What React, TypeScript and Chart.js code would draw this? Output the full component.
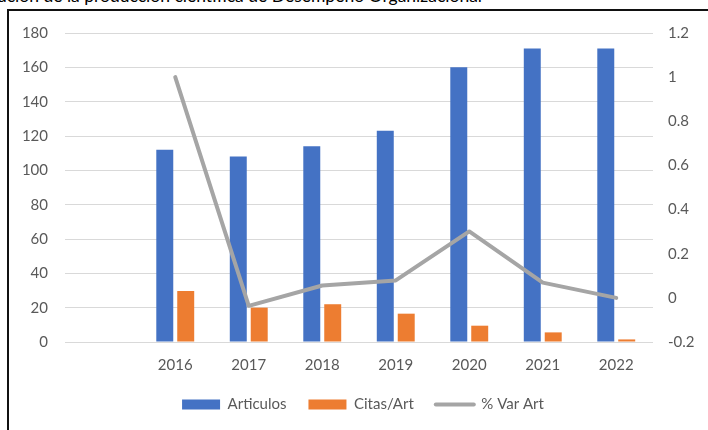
import React, { useEffect, useRef } from "react";
import { Chart, registerables } from "chart.js";

Chart.register(...registerables);

const categories = ["", "2016", "2017", "2018", "2019", "2020", "2021", "2022"];
const articulos = [null, 112, 108, 114, 123, 160, 171, 171];
const citasPorArt = [null, 29.7, 20, 22, 16.5, 9.5, 5.6, 1.5];
const varArt = [null, 1.0, -0.036, 0.056, 0.079, 0.301, 0.069, 0.0];
const leftTicks = [0, 20, 40, 60, 80, 100, 120, 140, 160, 180];
const rightTicks = ["-0.2", "0", "0.2", "0.4", "0.6", "0.8", "1", "1.2"];

const FONT = "Lato";
const TEXT = "#595959";

export default function App() {
  const ref = useRef<HTMLCanvasElement>(null);

  useEffect(() => {
    document.body.style.margin = "0";
    const ctx = ref.current!.getContext("2d")!;
    const chart = new Chart(ctx, {
      type: "bar",
      data: {
        labels: categories,
        datasets: [
          {
            type: "bar",
            label: "Articulos",
            data: articulos as any,
            backgroundColor: "#4472C4",
            borderWidth: 0,
            yAxisID: "y",
            categoryPercentage: 0.57,
            barPercentage: 0.81,
            order: 2,
          } as any,
          {
            type: "bar",
            label: "Citas/Art",
            data: citasPorArt as any,
            backgroundColor: "#ED7D31",
            borderWidth: 0,
            yAxisID: "y",
            categoryPercentage: 0.57,
            barPercentage: 0.81,
            order: 2,
          } as any,
          {
            type: "line",
            label: "% Var Art",
            data: varArt as any,
            borderColor: "#A5A5A5",
            backgroundColor: "#A5A5A5",
            borderWidth: 4,
            borderCapStyle: "round",
            borderJoinStyle: "round",
            pointRadius: 0,
            pointHoverRadius: 0,
            pointStyle: "line",
            yAxisID: "y1",
            tension: 0,
            spanGaps: false,
            order: 1,
          } as any,
        ],
      },
      options: {
        animation: false,
        responsive: false,
        maintainAspectRatio: false,
        layout: { padding: { top: 33, left: 18, right: 0, bottom: 8 } },
        plugins: {
          title: { display: false },
          tooltip: { enabled: false },
          legend: {
            position: "bottom",
            labels: {
              font: { family: FONT, size: 15 },
              color: TEXT,
              boxWidth: 38,
              boxHeight: 10,
              usePointStyle: true,
              pointStyleWidth: 38,
              padding: 22,
              generateLabels: (c: any) =>
                c.data.datasets.map((ds: any, i: number) => ({
                  text: ds.label,
                  fillStyle: ds.backgroundColor,
                  strokeStyle: ds.type === "line" ? ds.borderColor : ds.backgroundColor,
                  lineWidth: ds.type === "line" ? 4 : 0,
                  lineCap: "round",
                  pointStyle: ds.type === "line" ? "line" : "rect",
                  fontColor: TEXT,
                  hidden: false,
                  datasetIndex: i,
                })),
            },
          },
        },
        scales: {
          x: {
            grid: { display: false },
            border: { display: false },
            afterFit: (s: any) => {
              s.height = s.height - 5;
            },
            ticks: {
              font: { family: FONT, size: 15 },
              color: TEXT,
              padding: 6,
              maxRotation: 0,
            },
          },
          y: {
            position: "left",
            min: leftTicks[0],
            max: leftTicks[leftTicks.length - 1],
            afterBuildTicks: (s: any) => {
              s.ticks = leftTicks.map((v) => ({ value: v }));
            },
            afterFit: (s: any) => {
              s.width = 47;
            },
            grid: { color: "#D9D9D9", lineWidth: 1, drawTicks: false },
            border: { display: false },
            ticks: {
              font: { family: FONT, size: 15 },
              color: TEXT,
              padding: 17,
            },
          },
          y1: {
            position: "right",
            min: -0.2,
            max: 1.2,
            afterBuildTicks: (s: any) => {
              s.ticks = rightTicks.map((t) => ({ value: parseFloat(t) }));
            },
            afterFit: (s: any) => {
              s.width = 55;
            },
            grid: { display: false, drawTicks: false },
            border: { display: false },
            ticks: {
              font: { family: FONT, size: 15 },
              color: TEXT,
              padding: 15,
              callback: (_v: any, i: number) => rightTicks[i],
            },
          },
        },
      },
    });
    return () => chart.destroy();
  }, []);

  return (
    <div style={{ position: "relative", width: 708, height: 430, overflow: "hidden", background: "#fff" }}>
      <div
        style={{
          position: "absolute",
          right: 226,
          top: -14,
          whiteSpace: "nowrap",
          fontFamily: FONT,
          fontSize: 17.5,
          color: "#000",
          lineHeight: "20px",
        }}
      >
        Evolución de la producción científica de Desempeño Organizacional
      </div>
      <div
        style={{
          position: "absolute",
          left: 7,
          top: 9,
          width: 740,
          height: 460,
          border: "2px solid #111",
          boxSizing: "border-box",
        }}
      />
      <canvas ref={ref} width={708} height={430} style={{ position: "absolute", left: 0, top: 0 }} />
    </div>
  );
}
